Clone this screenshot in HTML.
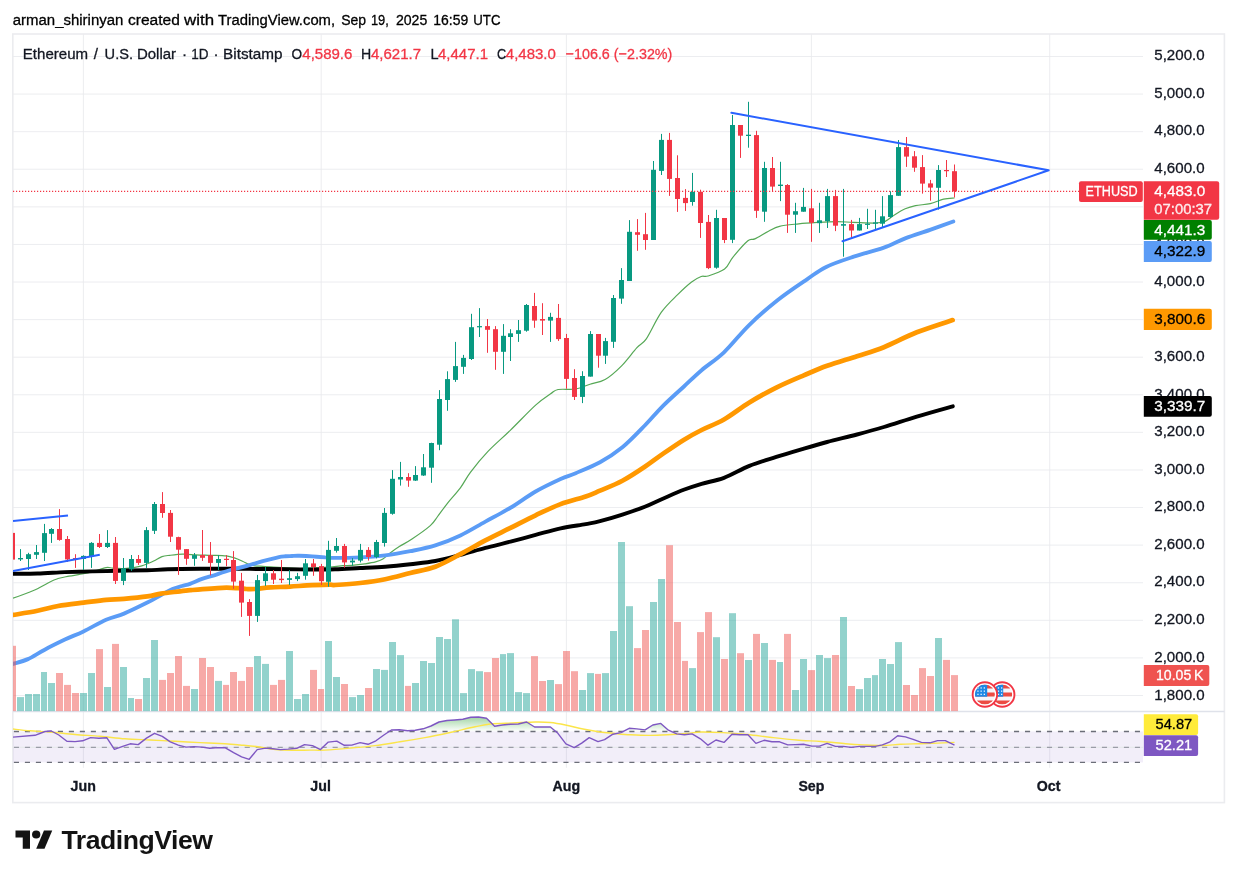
<!DOCTYPE html>
<html><head><meta charset="utf-8"><title>ETHUSD chart</title>
<style>html,body{margin:0;padding:0;background:#fff}body{width:1238px;height:878px;position:relative;overflow:hidden;font-family:"Liberation Sans", sans-serif}</style>
</head><body>
<svg width="1238" height="878" viewBox="0 0 1238 878" style="position:absolute;left:0;top:0;font-family:'Liberation Sans',sans-serif">
<defs>
<clipPath id="pane"><rect x="13.0" y="34.0" width="1130.0" height="677.5"/></clipPath>
<clipPath id="rsic"><rect x="13.0" y="711.5" width="1130.0" height="55.5"/></clipPath>
<clipPath id="above70"><rect x="13.0" y="711.5" width="1130.0" height="19.799999999999955"/></clipPath>
<linearGradient id="gg" gradientUnits="userSpaceOnUse" x1="0" y1="712" x2="0" y2="731.5"><stop offset="0" stop-color="#4caf50" stop-opacity="0.7"/><stop offset="1" stop-color="#4caf50" stop-opacity="0"/></linearGradient>
<clipPath id="flagc"><circle cx="0" cy="0" r="10"/></clipPath>
</defs>
<rect width="1238" height="878" fill="#fff"/>
<line x1="13.0" x2="1143.0" y1="56.50" y2="56.50" stroke="#e8eaed" stroke-width="0.85"/>
<line x1="13.0" x2="1143.0" y1="94.09" y2="94.09" stroke="#e8eaed" stroke-width="0.85"/>
<line x1="13.0" x2="1143.0" y1="131.68" y2="131.68" stroke="#e8eaed" stroke-width="0.85"/>
<line x1="13.0" x2="1143.0" y1="169.26" y2="169.26" stroke="#e8eaed" stroke-width="0.85"/>
<line x1="13.0" x2="1143.0" y1="206.85" y2="206.85" stroke="#e8eaed" stroke-width="0.85"/>
<line x1="13.0" x2="1143.0" y1="244.44" y2="244.44" stroke="#e8eaed" stroke-width="0.85"/>
<line x1="13.0" x2="1143.0" y1="282.03" y2="282.03" stroke="#e8eaed" stroke-width="0.85"/>
<line x1="13.0" x2="1143.0" y1="319.62" y2="319.62" stroke="#e8eaed" stroke-width="0.85"/>
<line x1="13.0" x2="1143.0" y1="357.20" y2="357.20" stroke="#e8eaed" stroke-width="0.85"/>
<line x1="13.0" x2="1143.0" y1="394.79" y2="394.79" stroke="#e8eaed" stroke-width="0.85"/>
<line x1="13.0" x2="1143.0" y1="432.38" y2="432.38" stroke="#e8eaed" stroke-width="0.85"/>
<line x1="13.0" x2="1143.0" y1="469.97" y2="469.97" stroke="#e8eaed" stroke-width="0.85"/>
<line x1="13.0" x2="1143.0" y1="507.56" y2="507.56" stroke="#e8eaed" stroke-width="0.85"/>
<line x1="13.0" x2="1143.0" y1="545.14" y2="545.14" stroke="#e8eaed" stroke-width="0.85"/>
<line x1="13.0" x2="1143.0" y1="582.73" y2="582.73" stroke="#e8eaed" stroke-width="0.85"/>
<line x1="13.0" x2="1143.0" y1="620.32" y2="620.32" stroke="#e8eaed" stroke-width="0.85"/>
<line x1="13.0" x2="1143.0" y1="657.91" y2="657.91" stroke="#e8eaed" stroke-width="0.85"/>
<line x1="13.0" x2="1143.0" y1="695.50" y2="695.50" stroke="#e8eaed" stroke-width="0.85"/>
<line x1="83.4" x2="83.4" y1="34.0" y2="767.8" stroke="#e8eaed" stroke-width="0.85"/>
<line x1="321.2" x2="321.2" y1="34.0" y2="767.8" stroke="#e8eaed" stroke-width="0.85"/>
<line x1="566.4" x2="566.4" y1="34.0" y2="767.8" stroke="#e8eaed" stroke-width="0.85"/>
<line x1="811.4" x2="811.4" y1="34.0" y2="767.8" stroke="#e8eaed" stroke-width="0.85"/>
<line x1="1049.7" x2="1049.7" y1="34.0" y2="767.8" stroke="#e8eaed" stroke-width="0.85"/>
<rect x="12.8" y="34.0" width="1211.6000000000001" height="768.6" fill="none" stroke="#ebecef" stroke-width="1.6"/>
<line x1="13.0" x2="1224.4" y1="711.5" y2="711.5" stroke="#dfe2ea" stroke-width="1.3"/>
<g clip-path="url(#pane)">
<path d="M13.0,598.2 C15.5,597.3 23.8,594.3 27.9,592.7 C32.0,591.1 34.1,590.5 37.5,588.8 C40.9,587.1 45.1,584.4 48.5,582.7 C51.9,581.0 54.7,579.6 58.1,578.5 C61.5,577.4 64.8,577.0 69.0,576.2 C73.2,575.4 79.6,574.5 83.5,573.7 C87.4,573.0 88.6,572.7 92.4,571.7 C96.2,570.7 102.7,568.2 106.1,567.6 C109.5,567.0 110.0,568.1 113.0,568.2 C116.0,568.4 120.6,568.6 124.0,568.5 C127.4,568.4 130.6,568.1 133.6,567.6 C136.6,567.1 139.5,566.4 141.8,565.8 C144.1,565.2 145.2,564.6 147.3,563.8 C149.4,562.9 151.8,561.9 154.2,560.7 C156.6,559.5 159.4,557.5 162.0,556.6 C164.6,555.7 166.5,555.7 170.0,555.3 C173.5,554.9 178.6,554.3 182.9,554.2 C187.2,554.1 191.5,554.7 195.8,554.9 C200.1,555.1 205.7,555.2 208.8,555.3 C211.9,555.4 211.3,555.2 214.2,555.3 C217.1,555.4 222.9,555.5 226.3,555.9 C229.7,556.3 231.7,557.0 234.4,557.9 C237.1,558.8 240.1,560.1 242.5,561.2 C244.9,562.3 247.0,563.6 249.0,564.4 C251.0,565.2 252.3,565.5 254.6,565.8 C256.9,566.1 260.0,566.2 262.7,566.4 C265.4,566.6 264.6,566.4 270.8,566.8 C277.0,567.1 290.1,568.5 300.0,568.5 C309.9,568.5 322.9,567.5 330.0,567.0 C337.1,566.5 339.1,566.0 342.8,565.7 C346.5,565.4 348.4,565.7 352.0,565.4 C355.6,565.1 360.8,564.5 364.7,563.9 C368.6,563.3 372.6,562.7 375.6,561.9 C378.6,561.1 380.5,560.5 382.9,559.0 C385.3,557.5 387.5,555.1 390.2,553.0 C392.9,550.9 395.7,548.9 399.3,546.6 C402.9,544.3 406.8,542.5 412.0,539.0 C417.2,535.5 426.0,529.4 430.3,525.6 C434.6,521.9 434.7,520.3 437.6,516.5 C440.5,512.7 444.0,507.6 447.8,502.8 C451.6,498.0 456.6,492.9 460.4,487.8 C464.2,482.7 465.8,478.4 470.4,472.3 C475.0,466.2 481.3,458.4 488.0,451.4 C494.7,444.4 502.6,437.8 510.5,430.1 C518.4,422.4 528.9,411.2 535.6,405.1 C542.3,399.1 546.9,396.4 550.6,393.8 C554.4,391.2 553.9,390.3 558.1,389.5 C562.3,388.7 570.4,389.9 575.7,389.0 C581.0,388.1 585.1,385.8 590.0,384.2 C594.9,382.6 599.8,382.6 605.1,379.5 C610.4,376.4 616.3,371.1 621.6,365.8 C626.9,360.5 632.6,352.4 636.7,347.9 C640.8,343.4 642.2,344.8 646.3,338.9 C650.4,332.9 656.1,319.6 661.4,312.2 C666.7,304.8 672.9,299.4 677.9,294.4 C682.9,289.4 687.7,285.0 691.6,282.0 C695.5,279.0 698.5,277.5 701.2,276.5 C704.0,275.5 704.2,277.2 708.1,276.0 C712.0,274.8 720.5,272.2 724.6,269.1 C728.7,266.0 728.9,262.0 732.8,257.3 C736.7,252.6 744.2,243.9 747.9,240.8 C751.6,237.7 751.4,240.5 754.8,238.9 C758.2,237.3 764.4,233.3 768.5,231.2 C772.6,229.1 774.5,227.5 779.5,226.3 C784.5,225.1 792.3,224.5 798.7,223.8 C805.1,223.2 811.6,222.8 818.0,222.4 C824.4,222.0 831.2,221.6 837.2,221.6 C843.2,221.6 847.3,222.2 853.7,222.4 C860.1,222.6 870.4,223.2 875.6,223.0 C880.9,222.8 882.0,222.8 885.2,221.4 C888.4,220.0 891.5,216.8 894.8,214.7 C898.1,212.6 901.8,210.3 905.2,208.8 C908.7,207.3 911.3,206.5 915.5,205.6 C919.7,204.7 925.6,204.7 930.3,203.6 C935.0,202.5 939.6,200.1 943.6,199.2 C947.6,198.3 952.7,198.2 954.5,198.0" fill="none" stroke="#56a856" stroke-width="1.2" stroke-linejoin="round"/>
<path d="M13.0,573.7 C17.1,573.7 28.9,573.8 37.5,573.5 C46.1,573.2 55.8,572.5 64.9,572.1 C74.1,571.8 83.2,571.6 92.4,571.4 C101.6,571.2 110.8,570.9 119.9,570.7 C129.1,570.5 139.3,570.5 147.3,570.3 C155.3,570.1 159.1,569.5 167.9,569.3 C176.7,569.0 186.3,568.9 200.0,568.8 C213.7,568.7 233.3,568.8 250.0,568.9 C266.7,569.0 290.0,569.3 300.0,569.4 C310.0,569.5 304.2,569.5 310.0,569.5 C315.8,569.5 326.6,569.5 335.0,569.2 C343.4,569.0 351.7,568.4 360.1,568.0 C368.5,567.6 376.8,567.3 385.2,566.7 C393.6,566.1 401.9,565.2 410.3,564.2 C418.7,563.2 427.0,562.5 435.3,561.0 C443.6,559.5 452.0,557.1 460.4,554.9 C468.8,552.7 477.0,550.1 485.4,547.9 C493.8,545.7 502.1,543.9 510.5,541.7 C518.9,539.5 527.2,537.1 535.6,534.9 C544.0,532.7 552.2,530.2 560.6,528.4 C569.0,526.6 579.1,525.3 585.7,524.1 C592.3,522.9 593.9,522.8 600.0,521.2 C606.1,519.6 614.9,517.0 622.4,514.6 C629.9,512.2 638.1,509.5 644.8,506.8 C651.5,504.1 656.3,501.5 662.8,498.7 C669.3,495.9 677.2,492.3 683.7,489.8 C690.2,487.3 694.9,485.8 701.6,483.8 C708.3,481.8 716.0,480.8 724.0,477.8 C732.0,474.8 740.7,469.4 749.4,465.9 C758.1,462.4 767.3,459.8 776.3,456.9 C785.3,454.0 794.7,451.3 803.2,448.8 C811.7,446.3 818.1,444.4 827.1,442.0 C836.1,439.6 847.5,437.0 857.0,434.5 C866.5,432.0 873.9,430.0 883.9,427.0 C893.9,424.0 905.3,420.1 916.8,416.6 C928.3,413.1 946.8,408.0 952.8,406.3" fill="none" stroke="#000" stroke-width="3.9" stroke-linejoin="round" stroke-linecap="round"/>
<path d="M13.0,663.9 C15.5,663.1 22.7,661.4 27.9,659.1 C33.1,656.8 38.1,653.1 44.3,649.9 C50.5,646.6 58.4,642.7 64.9,639.6 C71.4,636.5 76.6,634.7 83.5,631.4 C90.4,628.1 99.3,622.7 106.1,619.7 C112.8,616.7 117.1,616.5 124.0,613.6 C130.9,610.8 141.1,605.7 147.3,602.6 C153.5,599.5 156.9,597.3 161.1,595.0 C165.3,592.7 169.0,590.5 172.5,589.0 C176.0,587.5 179.1,586.9 182.0,586.0 C184.9,585.1 186.7,585.0 190.0,583.8 C193.3,582.6 198.1,580.3 202.1,578.9 C206.1,577.5 210.8,576.4 214.2,575.3 C217.6,574.2 219.6,573.4 222.3,572.5 C225.0,571.6 227.7,570.8 230.4,570.0 C233.1,569.2 235.8,568.7 238.5,568.0 C241.2,567.3 243.8,566.7 246.5,566.0 C249.2,565.3 251.9,564.4 254.6,563.6 C257.3,562.8 260.0,562.0 262.7,561.2 C265.4,560.5 268.1,559.8 270.8,559.1 C273.5,558.4 276.5,557.6 278.9,557.1 C281.3,556.6 283.1,556.5 285.3,556.3 C287.5,556.1 289.7,556.1 292.0,556.0 C294.3,555.9 295.8,555.7 299.2,555.8 C302.6,555.9 307.9,556.1 312.2,556.4 C316.5,556.7 321.3,557.1 325.1,557.4 C328.9,557.6 329.2,557.9 335.0,557.9 C340.8,557.9 351.7,557.8 360.1,557.4 C368.5,557.0 376.8,556.4 385.2,555.4 C393.6,554.4 401.9,552.9 410.3,551.2 C418.7,549.5 427.0,548.0 435.3,545.4 C443.6,542.8 452.0,539.4 460.4,535.4 C468.8,531.4 477.0,526.2 485.4,521.6 C493.8,517.0 502.1,512.8 510.5,507.8 C518.9,502.8 527.2,496.3 535.6,491.5 C544.0,486.7 553.9,482.1 560.6,479.0 C567.3,475.9 569.1,476.0 575.7,473.2 C582.3,470.4 592.2,466.6 600.0,462.3 C607.8,458.0 614.9,453.4 622.4,447.3 C629.9,441.2 638.1,432.4 644.8,425.5 C651.5,418.6 656.3,412.6 662.8,406.1 C669.3,399.6 677.2,392.7 683.7,386.7 C690.2,380.7 694.9,375.9 701.6,370.2 C708.3,364.5 716.0,359.9 724.0,352.3 C732.0,344.7 740.4,333.5 749.4,324.8 C758.4,316.1 768.2,307.6 777.8,300.0 C787.4,292.4 798.9,284.8 807.0,279.3 C815.1,273.8 818.4,270.7 826.2,266.9 C834.0,263.1 844.1,259.9 853.7,256.7 C863.3,253.5 875.2,250.8 883.9,247.7 C892.6,244.6 898.1,241.1 905.8,238.1 C913.5,235.1 922.1,232.6 930.0,229.8 C937.9,227.0 949.4,222.9 953.3,221.5" fill="none" stroke="#5b9cf6" stroke-width="3.9" stroke-linejoin="round" stroke-linecap="round"/>
<path d="M13.0,615.0 C17.1,614.3 30.0,612.3 37.5,610.8 C45.0,609.3 50.4,607.4 58.1,606.0 C65.8,604.6 75.5,603.6 83.5,602.6 C91.5,601.6 99.3,600.4 106.1,599.8 C112.8,599.2 117.1,599.5 124.0,598.9 C130.9,598.3 141.1,597.3 147.3,596.4 C153.5,595.5 155.7,594.5 161.1,593.6 C166.5,592.8 175.2,591.9 180.0,591.3 C184.8,590.7 182.9,590.8 190.0,590.2 C197.1,589.6 214.2,588.1 222.3,587.8 C230.4,587.5 234.5,588.0 238.5,588.2 C242.5,588.4 243.8,588.9 246.5,589.0 C249.2,589.1 250.5,589.3 254.6,589.0 C258.6,588.7 264.9,587.8 270.8,587.4 C276.7,587.0 283.1,587.0 290.0,586.6 C296.9,586.2 305.5,585.5 312.2,585.2 C318.9,584.9 326.2,584.6 330.0,584.6 C333.8,584.6 330.0,585.3 335.0,585.0 C340.0,584.7 351.7,584.0 360.1,583.0 C368.5,582.0 376.8,580.9 385.2,579.2 C393.6,577.5 401.9,575.1 410.3,573.0 C418.7,570.9 427.0,569.8 435.3,566.7 C443.6,563.6 452.0,558.6 460.4,554.2 C468.8,549.8 477.0,544.8 485.4,540.4 C493.8,536.0 502.1,532.1 510.5,527.9 C518.9,523.7 527.2,519.3 535.6,515.3 C544.0,511.3 552.2,507.2 560.6,504.1 C569.0,501.0 579.1,498.7 585.7,496.5 C592.3,494.3 593.9,493.3 600.0,490.7 C606.1,488.1 614.9,484.8 622.4,480.8 C629.9,476.8 638.1,471.3 644.8,466.8 C651.5,462.3 656.3,458.4 662.8,453.9 C669.3,449.4 677.2,443.9 683.7,439.9 C690.2,435.9 694.9,433.4 701.6,430.0 C708.3,426.6 716.0,424.1 724.0,419.5 C732.0,414.9 740.7,407.8 749.4,402.5 C758.1,397.2 767.3,392.1 776.3,387.6 C785.3,383.1 794.7,379.2 803.2,375.6 C811.7,372.0 818.1,369.0 827.1,365.8 C836.1,362.6 847.5,359.3 857.0,356.2 C866.5,353.1 873.9,351.2 883.9,347.2 C893.9,343.2 905.3,336.8 916.8,332.3 C928.2,327.8 946.6,322.1 952.6,320.1" fill="none" stroke="#ff9800" stroke-width="4.7" stroke-linejoin="round" stroke-linecap="round"/>
<rect x="9" y="645.8" width="7" height="65.4" fill="#ef5350" fill-opacity="0.5"/>
<rect x="17" y="697.1" width="7" height="14.1" fill="#26a69a" fill-opacity="0.5"/>
<rect x="25" y="694.0" width="7" height="17.2" fill="#26a69a" fill-opacity="0.5"/>
<rect x="33" y="694.0" width="7" height="17.2" fill="#26a69a" fill-opacity="0.5"/>
<rect x="41" y="672.0" width="6" height="39.2" fill="#26a69a" fill-opacity="0.5"/>
<rect x="48" y="683.0" width="7" height="28.2" fill="#26a69a" fill-opacity="0.5"/>
<rect x="56" y="673.0" width="7" height="38.2" fill="#ef5350" fill-opacity="0.5"/>
<rect x="64" y="684.9" width="7" height="26.3" fill="#ef5350" fill-opacity="0.5"/>
<rect x="72" y="693.0" width="7" height="18.2" fill="#ef5350" fill-opacity="0.5"/>
<rect x="80" y="693.0" width="7" height="18.2" fill="#26a69a" fill-opacity="0.5"/>
<rect x="88" y="673.0" width="7" height="38.2" fill="#26a69a" fill-opacity="0.5"/>
<rect x="96" y="649.1" width="7" height="62.1" fill="#ef5350" fill-opacity="0.5"/>
<rect x="104" y="687.0" width="7" height="24.2" fill="#26a69a" fill-opacity="0.5"/>
<rect x="112" y="643.9" width="7" height="67.3" fill="#ef5350" fill-opacity="0.5"/>
<rect x="120" y="667.0" width="7" height="44.2" fill="#26a69a" fill-opacity="0.5"/>
<rect x="128" y="698.0" width="6" height="13.2" fill="#26a69a" fill-opacity="0.5"/>
<rect x="135" y="699.0" width="7" height="12.2" fill="#ef5350" fill-opacity="0.5"/>
<rect x="143" y="678.0" width="7" height="33.2" fill="#26a69a" fill-opacity="0.5"/>
<rect x="151" y="640.0" width="7" height="71.2" fill="#26a69a" fill-opacity="0.5"/>
<rect x="159" y="679.9" width="7" height="31.3" fill="#ef5350" fill-opacity="0.5"/>
<rect x="167" y="673.0" width="7" height="38.2" fill="#ef5350" fill-opacity="0.5"/>
<rect x="175" y="656.0" width="7" height="55.2" fill="#ef5350" fill-opacity="0.5"/>
<rect x="183" y="685.9" width="7" height="25.3" fill="#ef5350" fill-opacity="0.5"/>
<rect x="191" y="689.0" width="7" height="22.2" fill="#26a69a" fill-opacity="0.5"/>
<rect x="199" y="658.0" width="7" height="53.2" fill="#ef5350" fill-opacity="0.5"/>
<rect x="207" y="667.0" width="7" height="44.2" fill="#ef5350" fill-opacity="0.5"/>
<rect x="215" y="680.9" width="7" height="30.3" fill="#26a69a" fill-opacity="0.5"/>
<rect x="223" y="684.9" width="6" height="26.3" fill="#ef5350" fill-opacity="0.5"/>
<rect x="230" y="672.0" width="7" height="39.2" fill="#ef5350" fill-opacity="0.5"/>
<rect x="238" y="680.9" width="7" height="30.3" fill="#ef5350" fill-opacity="0.5"/>
<rect x="246" y="667.0" width="7" height="44.2" fill="#ef5350" fill-opacity="0.5"/>
<rect x="254" y="656.0" width="7" height="55.2" fill="#26a69a" fill-opacity="0.5"/>
<rect x="262" y="663.9" width="7" height="47.3" fill="#26a69a" fill-opacity="0.5"/>
<rect x="270" y="684.9" width="7" height="26.3" fill="#ef5350" fill-opacity="0.5"/>
<rect x="278" y="679.9" width="7" height="31.3" fill="#ef5350" fill-opacity="0.5"/>
<rect x="286" y="651.0" width="7" height="60.2" fill="#26a69a" fill-opacity="0.5"/>
<rect x="294" y="699.0" width="7" height="12.2" fill="#26a69a" fill-opacity="0.5"/>
<rect x="302" y="694.0" width="7" height="17.2" fill="#26a69a" fill-opacity="0.5"/>
<rect x="310" y="669.9" width="7" height="41.3" fill="#ef5350" fill-opacity="0.5"/>
<rect x="318" y="689.0" width="6" height="22.2" fill="#ef5350" fill-opacity="0.5"/>
<rect x="325" y="641.0" width="7" height="70.2" fill="#26a69a" fill-opacity="0.5"/>
<rect x="333" y="677.0" width="7" height="34.2" fill="#26a69a" fill-opacity="0.5"/>
<rect x="341" y="684.0" width="7" height="27.2" fill="#ef5350" fill-opacity="0.5"/>
<rect x="349" y="697.1" width="7" height="14.1" fill="#26a69a" fill-opacity="0.5"/>
<rect x="357" y="695.0" width="7" height="16.2" fill="#26a69a" fill-opacity="0.5"/>
<rect x="365" y="688.0" width="7" height="23.2" fill="#ef5350" fill-opacity="0.5"/>
<rect x="373" y="669.0" width="7" height="42.2" fill="#26a69a" fill-opacity="0.5"/>
<rect x="381" y="669.9" width="7" height="41.3" fill="#26a69a" fill-opacity="0.5"/>
<rect x="389" y="642.0" width="7" height="69.2" fill="#26a69a" fill-opacity="0.5"/>
<rect x="397" y="655.1" width="7" height="56.1" fill="#26a69a" fill-opacity="0.5"/>
<rect x="405" y="685.9" width="6" height="25.3" fill="#ef5350" fill-opacity="0.5"/>
<rect x="412" y="683.0" width="7" height="28.2" fill="#26a69a" fill-opacity="0.5"/>
<rect x="420" y="661.0" width="7" height="50.2" fill="#26a69a" fill-opacity="0.5"/>
<rect x="428" y="663.0" width="7" height="48.2" fill="#26a69a" fill-opacity="0.5"/>
<rect x="436" y="637.0" width="7" height="74.2" fill="#26a69a" fill-opacity="0.5"/>
<rect x="444" y="639.0" width="7" height="72.2" fill="#26a69a" fill-opacity="0.5"/>
<rect x="452" y="619.3" width="7" height="91.9" fill="#26a69a" fill-opacity="0.5"/>
<rect x="460" y="693.1" width="7" height="18.1" fill="#26a69a" fill-opacity="0.5"/>
<rect x="468" y="669.1" width="7" height="42.1" fill="#26a69a" fill-opacity="0.5"/>
<rect x="476" y="671.2" width="7" height="40.0" fill="#26a69a" fill-opacity="0.5"/>
<rect x="484" y="672.1" width="7" height="39.1" fill="#ef5350" fill-opacity="0.5"/>
<rect x="492" y="658.0" width="7" height="53.2" fill="#ef5350" fill-opacity="0.5"/>
<rect x="500" y="654.1" width="6" height="57.1" fill="#26a69a" fill-opacity="0.5"/>
<rect x="507" y="653.1" width="7" height="58.1" fill="#26a69a" fill-opacity="0.5"/>
<rect x="515" y="692.1" width="7" height="19.1" fill="#26a69a" fill-opacity="0.5"/>
<rect x="523" y="693.1" width="7" height="18.1" fill="#26a69a" fill-opacity="0.5"/>
<rect x="531" y="656.1" width="7" height="55.1" fill="#ef5350" fill-opacity="0.5"/>
<rect x="539" y="681.0" width="7" height="30.2" fill="#ef5350" fill-opacity="0.5"/>
<rect x="547" y="680.0" width="7" height="31.2" fill="#26a69a" fill-opacity="0.5"/>
<rect x="555" y="684.1" width="7" height="27.1" fill="#ef5350" fill-opacity="0.5"/>
<rect x="563" y="651.0" width="7" height="60.2" fill="#ef5350" fill-opacity="0.5"/>
<rect x="571" y="671.2" width="7" height="40.0" fill="#ef5350" fill-opacity="0.5"/>
<rect x="579" y="690.0" width="7" height="21.2" fill="#26a69a" fill-opacity="0.5"/>
<rect x="587" y="673.1" width="7" height="38.1" fill="#26a69a" fill-opacity="0.5"/>
<rect x="595" y="673.9" width="6" height="37.3" fill="#ef5350" fill-opacity="0.5"/>
<rect x="602" y="673.1" width="7" height="38.1" fill="#26a69a" fill-opacity="0.5"/>
<rect x="610" y="631.0" width="7" height="80.2" fill="#26a69a" fill-opacity="0.5"/>
<rect x="618" y="542.0" width="7" height="169.2" fill="#26a69a" fill-opacity="0.5"/>
<rect x="626" y="606.2" width="7" height="105.0" fill="#26a69a" fill-opacity="0.5"/>
<rect x="634" y="648.1" width="7" height="63.1" fill="#ef5350" fill-opacity="0.5"/>
<rect x="642" y="630.0" width="7" height="81.2" fill="#ef5350" fill-opacity="0.5"/>
<rect x="650" y="602.0" width="7" height="109.2" fill="#26a69a" fill-opacity="0.5"/>
<rect x="658" y="579.0" width="7" height="132.2" fill="#26a69a" fill-opacity="0.5"/>
<rect x="666" y="545.2" width="7" height="166.0" fill="#ef5350" fill-opacity="0.5"/>
<rect x="674" y="622.0" width="7" height="89.2" fill="#ef5350" fill-opacity="0.5"/>
<rect x="682" y="660.9" width="6" height="50.3" fill="#ef5350" fill-opacity="0.5"/>
<rect x="689" y="668.1" width="7" height="43.1" fill="#26a69a" fill-opacity="0.5"/>
<rect x="697" y="632.1" width="7" height="79.1" fill="#ef5350" fill-opacity="0.5"/>
<rect x="705" y="612.1" width="7" height="99.1" fill="#ef5350" fill-opacity="0.5"/>
<rect x="713" y="637.2" width="7" height="74.0" fill="#26a69a" fill-opacity="0.5"/>
<rect x="721" y="659.0" width="7" height="52.2" fill="#ef5350" fill-opacity="0.5"/>
<rect x="729" y="613.2" width="7" height="98.0" fill="#26a69a" fill-opacity="0.5"/>
<rect x="737" y="653.2" width="7" height="58.0" fill="#ef5350" fill-opacity="0.5"/>
<rect x="745" y="660.0" width="7" height="51.2" fill="#26a69a" fill-opacity="0.5"/>
<rect x="753" y="633.9" width="7" height="77.3" fill="#ef5350" fill-opacity="0.5"/>
<rect x="761" y="643.0" width="7" height="68.2" fill="#26a69a" fill-opacity="0.5"/>
<rect x="769" y="659.9" width="7" height="51.3" fill="#ef5350" fill-opacity="0.5"/>
<rect x="777" y="662.0" width="6" height="49.2" fill="#26a69a" fill-opacity="0.5"/>
<rect x="784" y="633.9" width="7" height="77.3" fill="#ef5350" fill-opacity="0.5"/>
<rect x="792" y="690.0" width="7" height="21.2" fill="#26a69a" fill-opacity="0.5"/>
<rect x="800" y="659.0" width="7" height="52.2" fill="#26a69a" fill-opacity="0.5"/>
<rect x="808" y="670.1" width="7" height="41.1" fill="#ef5350" fill-opacity="0.5"/>
<rect x="816" y="655.0" width="7" height="56.2" fill="#26a69a" fill-opacity="0.5"/>
<rect x="824" y="658.1" width="7" height="53.1" fill="#26a69a" fill-opacity="0.5"/>
<rect x="832" y="655.0" width="7" height="56.2" fill="#ef5350" fill-opacity="0.5"/>
<rect x="840" y="617.0" width="7" height="94.2" fill="#26a69a" fill-opacity="0.5"/>
<rect x="848" y="686.0" width="7" height="25.2" fill="#ef5350" fill-opacity="0.5"/>
<rect x="856" y="689.1" width="7" height="22.1" fill="#26a69a" fill-opacity="0.5"/>
<rect x="864" y="678.0" width="7" height="33.2" fill="#26a69a" fill-opacity="0.5"/>
<rect x="872" y="675.1" width="6" height="36.1" fill="#26a69a" fill-opacity="0.5"/>
<rect x="879" y="659.0" width="7" height="52.2" fill="#26a69a" fill-opacity="0.5"/>
<rect x="887" y="664.0" width="7" height="47.2" fill="#26a69a" fill-opacity="0.5"/>
<rect x="895" y="642.1" width="7" height="69.1" fill="#26a69a" fill-opacity="0.5"/>
<rect x="903" y="685.0" width="7" height="26.2" fill="#ef5350" fill-opacity="0.5"/>
<rect x="911" y="695.0" width="7" height="16.2" fill="#ef5350" fill-opacity="0.5"/>
<rect x="919" y="668.1" width="7" height="43.1" fill="#ef5350" fill-opacity="0.5"/>
<rect x="927" y="676.0" width="7" height="35.2" fill="#ef5350" fill-opacity="0.5"/>
<rect x="935" y="638.0" width="7" height="73.2" fill="#26a69a" fill-opacity="0.5"/>
<rect x="943" y="659.9" width="7" height="51.3" fill="#ef5350" fill-opacity="0.5"/>
<rect x="951" y="675.1" width="7" height="36.1" fill="#ef5350" fill-opacity="0.5"/>
<rect x="12.0" y="532.9" width="1" height="26.7" fill="#f23645"/>
<rect x="10.0" y="532.9" width="5" height="26.7" fill="#f23645"/>
<rect x="20.0" y="549.1" width="1" height="11.9" fill="#089981"/>
<rect x="18.0" y="558.0" width="5" height="1.4" fill="#089981"/>
<rect x="28.0" y="552.8" width="1" height="17.2" fill="#089981"/>
<rect x="26.0" y="554.2" width="5" height="4.8" fill="#089981"/>
<rect x="36.0" y="545.0" width="1" height="14.0" fill="#089981"/>
<rect x="34.0" y="552.1" width="5" height="2.7" fill="#089981"/>
<rect x="44.0" y="523.9" width="1" height="37.1" fill="#089981"/>
<rect x="42.0" y="533.1" width="5" height="19.7" fill="#089981"/>
<rect x="51.0" y="528.1" width="1" height="14.8" fill="#089981"/>
<rect x="49.0" y="529.0" width="5" height="4.8" fill="#089981"/>
<rect x="59.0" y="509.1" width="1" height="31.6" fill="#f23645"/>
<rect x="57.0" y="529.0" width="5" height="10.9" fill="#f23645"/>
<rect x="67.0" y="536.0" width="1" height="26.0" fill="#f23645"/>
<rect x="65.0" y="539.0" width="5" height="20.4" fill="#f23645"/>
<rect x="75.0" y="554.2" width="1" height="13.7" fill="#f23645"/>
<rect x="73.0" y="558.0" width="5" height="1.2" fill="#f23645"/>
<rect x="83.0" y="555.3" width="1" height="14.7" fill="#089981"/>
<rect x="81.0" y="555.9" width="5" height="3.1" fill="#089981"/>
<rect x="91.0" y="542.1" width="1" height="25.8" fill="#089981"/>
<rect x="89.0" y="542.9" width="5" height="13.7" fill="#089981"/>
<rect x="99.0" y="534.0" width="1" height="14.0" fill="#f23645"/>
<rect x="97.0" y="542.9" width="5" height="4.1" fill="#f23645"/>
<rect x="107.0" y="530.1" width="1" height="17.9" fill="#089981"/>
<rect x="105.0" y="542.9" width="5" height="4.1" fill="#089981"/>
<rect x="115.0" y="537.0" width="1" height="47.0" fill="#f23645"/>
<rect x="113.0" y="542.9" width="5" height="38.0" fill="#f23645"/>
<rect x="123.0" y="558.0" width="1" height="27.1" fill="#089981"/>
<rect x="121.0" y="568.3" width="5" height="12.6" fill="#089981"/>
<rect x="131.0" y="555.0" width="1" height="15.9" fill="#089981"/>
<rect x="129.0" y="559.0" width="5" height="10.3" fill="#089981"/>
<rect x="138.0" y="555.0" width="1" height="9.9" fill="#f23645"/>
<rect x="136.0" y="559.0" width="5" height="3.9" fill="#f23645"/>
<rect x="146.0" y="527.1" width="1" height="40.8" fill="#089981"/>
<rect x="144.0" y="530.1" width="5" height="32.8" fill="#089981"/>
<rect x="154.0" y="502.0" width="1" height="32.0" fill="#089981"/>
<rect x="152.0" y="504.0" width="5" height="26.8" fill="#089981"/>
<rect x="162.0" y="492.1" width="1" height="25.7" fill="#f23645"/>
<rect x="160.0" y="504.0" width="5" height="9.0" fill="#f23645"/>
<rect x="170.0" y="510.0" width="1" height="32.0" fill="#f23645"/>
<rect x="168.0" y="512.9" width="5" height="23.8" fill="#f23645"/>
<rect x="178.0" y="536.7" width="1" height="38.2" fill="#f23645"/>
<rect x="176.0" y="537.1" width="5" height="12.6" fill="#f23645"/>
<rect x="186.0" y="549.1" width="1" height="15.7" fill="#f23645"/>
<rect x="184.0" y="549.1" width="5" height="9.7" fill="#f23645"/>
<rect x="194.0" y="553.0" width="1" height="12.8" fill="#089981"/>
<rect x="192.0" y="555.1" width="5" height="3.7" fill="#089981"/>
<rect x="202.0" y="530.0" width="1" height="30.9" fill="#f23645"/>
<rect x="200.0" y="555.1" width="5" height="2.7" fill="#f23645"/>
<rect x="210.0" y="542.0" width="1" height="33.4" fill="#f23645"/>
<rect x="208.0" y="555.1" width="5" height="7.8" fill="#f23645"/>
<rect x="218.0" y="555.1" width="1" height="14.9" fill="#089981"/>
<rect x="216.0" y="559.0" width="5" height="3.9" fill="#089981"/>
<rect x="226.0" y="555.1" width="1" height="11.1" fill="#f23645"/>
<rect x="224.0" y="558.8" width="5" height="1.2" fill="#f23645"/>
<rect x="233.0" y="551.1" width="1" height="37.7" fill="#f23645"/>
<rect x="231.0" y="560.0" width="5" height="21.6" fill="#f23645"/>
<rect x="241.0" y="572.9" width="1" height="44.0" fill="#f23645"/>
<rect x="239.0" y="580.7" width="5" height="21.9" fill="#f23645"/>
<rect x="249.0" y="599.1" width="1" height="36.8" fill="#f23645"/>
<rect x="247.0" y="602.0" width="5" height="13.9" fill="#f23645"/>
<rect x="257.0" y="574.9" width="1" height="47.0" fill="#089981"/>
<rect x="255.0" y="580.1" width="5" height="35.8" fill="#089981"/>
<rect x="265.0" y="567.1" width="1" height="18.8" fill="#089981"/>
<rect x="263.0" y="573.3" width="5" height="7.8" fill="#089981"/>
<rect x="273.0" y="570.0" width="1" height="14.0" fill="#f23645"/>
<rect x="271.0" y="573.3" width="5" height="6.4" fill="#f23645"/>
<rect x="281.0" y="560.0" width="1" height="23.0" fill="#f23645"/>
<rect x="279.0" y="578.7" width="5" height="1.4" fill="#f23645"/>
<rect x="289.0" y="570.0" width="1" height="14.9" fill="#089981"/>
<rect x="287.0" y="578.2" width="5" height="1.7" fill="#089981"/>
<rect x="297.0" y="572.9" width="1" height="8.2" fill="#089981"/>
<rect x="295.0" y="576.2" width="5" height="2.9" fill="#089981"/>
<rect x="305.0" y="559.0" width="1" height="20.7" fill="#089981"/>
<rect x="303.0" y="563.3" width="5" height="12.5" fill="#089981"/>
<rect x="313.0" y="559.0" width="1" height="16.8" fill="#f23645"/>
<rect x="311.0" y="563.4" width="5" height="3.6" fill="#f23645"/>
<rect x="321.0" y="563.9" width="1" height="21.0" fill="#f23645"/>
<rect x="319.0" y="566.1" width="5" height="15.1" fill="#f23645"/>
<rect x="328.0" y="540.8" width="1" height="45.9" fill="#089981"/>
<rect x="326.0" y="549.9" width="5" height="31.9" fill="#089981"/>
<rect x="336.0" y="538.0" width="1" height="14.6" fill="#089981"/>
<rect x="334.0" y="546.0" width="5" height="4.8" fill="#089981"/>
<rect x="344.0" y="543.9" width="1" height="23.7" fill="#f23645"/>
<rect x="342.0" y="546.0" width="5" height="16.4" fill="#f23645"/>
<rect x="352.0" y="558.1" width="1" height="7.6" fill="#089981"/>
<rect x="350.0" y="560.6" width="5" height="1.8" fill="#089981"/>
<rect x="360.0" y="543.9" width="1" height="18.5" fill="#089981"/>
<rect x="358.0" y="549.9" width="5" height="10.7" fill="#089981"/>
<rect x="368.0" y="547.1" width="1" height="13.5" fill="#f23645"/>
<rect x="366.0" y="549.9" width="5" height="7.1" fill="#f23645"/>
<rect x="376.0" y="539.9" width="1" height="18.5" fill="#089981"/>
<rect x="374.0" y="542.0" width="5" height="15.0" fill="#089981"/>
<rect x="384.0" y="508.0" width="1" height="38.6" fill="#089981"/>
<rect x="382.0" y="512.9" width="5" height="30.1" fill="#089981"/>
<rect x="392.0" y="470.1" width="1" height="44.6" fill="#089981"/>
<rect x="390.0" y="478.8" width="5" height="35.0" fill="#089981"/>
<rect x="400.0" y="461.9" width="1" height="23.7" fill="#089981"/>
<rect x="398.0" y="477.0" width="5" height="2.5" fill="#089981"/>
<rect x="408.0" y="473.2" width="1" height="13.6" fill="#f23645"/>
<rect x="406.0" y="477.0" width="5" height="3.6" fill="#f23645"/>
<rect x="415.0" y="466.1" width="1" height="14.9" fill="#089981"/>
<rect x="413.0" y="475.0" width="5" height="5.6" fill="#089981"/>
<rect x="423.0" y="454.0" width="1" height="21.9" fill="#089981"/>
<rect x="421.0" y="467.3" width="5" height="8.2" fill="#089981"/>
<rect x="431.0" y="442.7" width="1" height="40.1" fill="#089981"/>
<rect x="429.0" y="443.0" width="5" height="24.7" fill="#089981"/>
<rect x="439.0" y="390.1" width="1" height="60.1" fill="#089981"/>
<rect x="437.0" y="399.0" width="5" height="45.7" fill="#089981"/>
<rect x="447.0" y="371.3" width="1" height="39.5" fill="#089981"/>
<rect x="445.0" y="379.1" width="5" height="20.9" fill="#089981"/>
<rect x="455.0" y="341.9" width="1" height="40.0" fill="#089981"/>
<rect x="453.0" y="366.1" width="5" height="13.8" fill="#089981"/>
<rect x="463.0" y="354.9" width="1" height="19.0" fill="#089981"/>
<rect x="461.0" y="357.9" width="5" height="8.9" fill="#089981"/>
<rect x="471.0" y="313.8" width="1" height="46.2" fill="#089981"/>
<rect x="469.0" y="327.2" width="5" height="31.8" fill="#089981"/>
<rect x="479.0" y="308.1" width="1" height="28.9" fill="#089981"/>
<rect x="477.0" y="326.1" width="5" height="1.2" fill="#089981"/>
<rect x="487.0" y="319.0" width="1" height="33.8" fill="#f23645"/>
<rect x="485.0" y="326.1" width="5" height="3.7" fill="#f23645"/>
<rect x="495.0" y="326.1" width="1" height="43.7" fill="#f23645"/>
<rect x="493.0" y="329.2" width="5" height="22.6" fill="#f23645"/>
<rect x="503.0" y="324.1" width="1" height="49.8" fill="#089981"/>
<rect x="501.0" y="335.8" width="5" height="16.0" fill="#089981"/>
<rect x="510.0" y="329.2" width="1" height="31.8" fill="#089981"/>
<rect x="508.0" y="333.3" width="5" height="3.7" fill="#089981"/>
<rect x="518.0" y="320.0" width="1" height="21.9" fill="#089981"/>
<rect x="516.0" y="330.2" width="5" height="3.7" fill="#089981"/>
<rect x="526.0" y="304.0" width="1" height="27.7" fill="#089981"/>
<rect x="524.0" y="305.0" width="5" height="25.7" fill="#089981"/>
<rect x="534.0" y="292.9" width="1" height="34.9" fill="#f23645"/>
<rect x="532.0" y="306.0" width="5" height="14.6" fill="#f23645"/>
<rect x="542.0" y="303.2" width="1" height="31.8" fill="#f23645"/>
<rect x="540.0" y="319.0" width="5" height="1.6" fill="#f23645"/>
<rect x="550.0" y="312.8" width="1" height="29.1" fill="#089981"/>
<rect x="548.0" y="316.9" width="5" height="3.7" fill="#089981"/>
<rect x="558.0" y="304.0" width="1" height="36.9" fill="#f23645"/>
<rect x="556.0" y="317.9" width="5" height="21.2" fill="#f23645"/>
<rect x="566.0" y="333.9" width="1" height="54.8" fill="#f23645"/>
<rect x="564.0" y="338.0" width="5" height="40.9" fill="#f23645"/>
<rect x="574.0" y="369.2" width="1" height="30.8" fill="#f23645"/>
<rect x="572.0" y="378.0" width="5" height="18.9" fill="#f23645"/>
<rect x="582.0" y="371.2" width="1" height="31.9" fill="#089981"/>
<rect x="580.0" y="376.0" width="5" height="20.9" fill="#089981"/>
<rect x="590.0" y="331.1" width="1" height="45.5" fill="#089981"/>
<rect x="588.0" y="334.0" width="5" height="42.6" fill="#089981"/>
<rect x="598.0" y="334.0" width="1" height="33.7" fill="#f23645"/>
<rect x="596.0" y="334.0" width="5" height="21.7" fill="#f23645"/>
<rect x="605.0" y="337.9" width="1" height="26.0" fill="#089981"/>
<rect x="603.0" y="341.1" width="5" height="14.6" fill="#089981"/>
<rect x="613.0" y="295.0" width="1" height="52.9" fill="#089981"/>
<rect x="611.0" y="298.0" width="5" height="43.8" fill="#089981"/>
<rect x="621.0" y="268.1" width="1" height="35.7" fill="#089981"/>
<rect x="619.0" y="280.0" width="5" height="18.6" fill="#089981"/>
<rect x="629.0" y="220.1" width="1" height="60.9" fill="#089981"/>
<rect x="627.0" y="231.8" width="5" height="49.2" fill="#089981"/>
<rect x="637.0" y="219.1" width="1" height="31.7" fill="#f23645"/>
<rect x="635.0" y="232.2" width="5" height="2.6" fill="#f23645"/>
<rect x="645.0" y="212.9" width="1" height="36.9" fill="#f23645"/>
<rect x="643.0" y="234.2" width="5" height="5.8" fill="#f23645"/>
<rect x="653.0" y="161.0" width="1" height="79.0" fill="#089981"/>
<rect x="651.0" y="169.8" width="5" height="70.2" fill="#089981"/>
<rect x="661.0" y="133.9" width="1" height="41.1" fill="#089981"/>
<rect x="659.0" y="139.9" width="5" height="31.0" fill="#089981"/>
<rect x="669.0" y="132.9" width="1" height="63.0" fill="#f23645"/>
<rect x="667.0" y="139.9" width="5" height="39.0" fill="#f23645"/>
<rect x="677.0" y="155.3" width="1" height="56.6" fill="#f23645"/>
<rect x="675.0" y="178.0" width="5" height="21.0" fill="#f23645"/>
<rect x="685.0" y="189.1" width="1" height="21.8" fill="#f23645"/>
<rect x="683.0" y="197.9" width="5" height="5.2" fill="#f23645"/>
<rect x="692.0" y="172.9" width="1" height="32.8" fill="#089981"/>
<rect x="690.0" y="191.8" width="5" height="10.2" fill="#089981"/>
<rect x="700.0" y="189.7" width="1" height="48.2" fill="#f23645"/>
<rect x="698.0" y="191.8" width="5" height="31.2" fill="#f23645"/>
<rect x="708.0" y="215.0" width="1" height="54.1" fill="#f23645"/>
<rect x="706.0" y="221.9" width="5" height="46.2" fill="#f23645"/>
<rect x="716.0" y="209.8" width="1" height="58.9" fill="#089981"/>
<rect x="714.0" y="218.0" width="5" height="49.7" fill="#089981"/>
<rect x="724.0" y="218.0" width="1" height="25.1" fill="#f23645"/>
<rect x="722.0" y="218.0" width="5" height="22.0" fill="#f23645"/>
<rect x="732.0" y="114.9" width="1" height="128.2" fill="#089981"/>
<rect x="730.0" y="125.0" width="5" height="114.8" fill="#089981"/>
<rect x="740.0" y="125.0" width="1" height="32.9" fill="#f23645"/>
<rect x="738.0" y="125.0" width="5" height="10.7" fill="#f23645"/>
<rect x="748.0" y="101.8" width="1" height="45.9" fill="#089981"/>
<rect x="746.0" y="134.7" width="5" height="1.3" fill="#089981"/>
<rect x="756.0" y="130.8" width="1" height="87.1" fill="#f23645"/>
<rect x="754.0" y="135.1" width="5" height="75.7" fill="#f23645"/>
<rect x="764.0" y="161.8" width="1" height="60.0" fill="#089981"/>
<rect x="762.0" y="168.0" width="5" height="43.7" fill="#089981"/>
<rect x="772.0" y="157.0" width="1" height="34.4" fill="#f23645"/>
<rect x="770.0" y="168.0" width="5" height="18.6" fill="#f23645"/>
<rect x="780.0" y="161.8" width="1" height="39.3" fill="#089981"/>
<rect x="778.0" y="184.6" width="5" height="1.4" fill="#089981"/>
<rect x="787.0" y="184.1" width="1" height="48.8" fill="#f23645"/>
<rect x="785.0" y="185.0" width="5" height="29.7" fill="#f23645"/>
<rect x="795.0" y="202.8" width="1" height="30.1" fill="#089981"/>
<rect x="793.0" y="211.2" width="5" height="3.5" fill="#089981"/>
<rect x="803.0" y="187.9" width="1" height="23.8" fill="#089981"/>
<rect x="801.0" y="206.9" width="5" height="4.8" fill="#089981"/>
<rect x="811.0" y="188.9" width="1" height="52.9" fill="#f23645"/>
<rect x="809.0" y="208.3" width="5" height="14.5" fill="#f23645"/>
<rect x="819.0" y="202.8" width="1" height="30.1" fill="#089981"/>
<rect x="817.0" y="220.3" width="5" height="2.9" fill="#089981"/>
<rect x="827.0" y="188.9" width="1" height="39.1" fill="#089981"/>
<rect x="825.0" y="196.1" width="5" height="25.1" fill="#089981"/>
<rect x="835.0" y="189.9" width="1" height="41.2" fill="#f23645"/>
<rect x="833.0" y="196.1" width="5" height="29.6" fill="#f23645"/>
<rect x="843.0" y="188.9" width="1" height="67.8" fill="#089981"/>
<rect x="841.0" y="224.1" width="5" height="1.6" fill="#089981"/>
<rect x="851.0" y="219.9" width="1" height="17.4" fill="#f23645"/>
<rect x="849.0" y="224.1" width="5" height="6.4" fill="#f23645"/>
<rect x="859.0" y="217.9" width="1" height="12.6" fill="#089981"/>
<rect x="857.0" y="224.1" width="5" height="6.4" fill="#089981"/>
<rect x="867.0" y="208.8" width="1" height="20.2" fill="#089981"/>
<rect x="865.0" y="223.7" width="5" height="1.2" fill="#089981"/>
<rect x="875.0" y="209.8" width="1" height="19.2" fill="#089981"/>
<rect x="873.0" y="222.4" width="5" height="1.3" fill="#089981"/>
<rect x="882.0" y="196.1" width="1" height="31.4" fill="#089981"/>
<rect x="880.0" y="216.3" width="5" height="7.4" fill="#089981"/>
<rect x="890.0" y="191.2" width="1" height="26.8" fill="#089981"/>
<rect x="888.0" y="195.1" width="5" height="21.9" fill="#089981"/>
<rect x="898.0" y="140.0" width="1" height="55.8" fill="#089981"/>
<rect x="896.0" y="147.1" width="5" height="48.7" fill="#089981"/>
<rect x="906.0" y="137.0" width="1" height="29.9" fill="#f23645"/>
<rect x="904.0" y="147.1" width="5" height="9.5" fill="#f23645"/>
<rect x="914.0" y="151.1" width="1" height="20.7" fill="#f23645"/>
<rect x="912.0" y="156.3" width="5" height="11.4" fill="#f23645"/>
<rect x="922.0" y="155.1" width="1" height="38.5" fill="#f23645"/>
<rect x="920.0" y="167.1" width="5" height="16.5" fill="#f23645"/>
<rect x="930.0" y="179.9" width="1" height="20.8" fill="#f23645"/>
<rect x="928.0" y="183.4" width="5" height="4.2" fill="#f23645"/>
<rect x="938.0" y="165.1" width="1" height="44.5" fill="#089981"/>
<rect x="936.0" y="170.0" width="5" height="17.8" fill="#089981"/>
<rect x="946.0" y="160.0" width="1" height="17.0" fill="#f23645"/>
<rect x="944.0" y="170.0" width="5" height="1.2" fill="#f23645"/>
<rect x="954.0" y="164.5" width="1" height="33.0" fill="#f23645"/>
<rect x="952.0" y="171.2" width="5" height="20.1" fill="#f23645"/>
<line x1="13.0" x2="1079" y1="191.4" y2="191.4" stroke="#f23645" stroke-width="1.2" stroke-dasharray="1.2 1.8"/>
<line x1="13" y1="520.9" x2="68" y2="515.4" stroke="#2962ff" stroke-width="2"/>
<line x1="13" y1="570.9" x2="99.8" y2="554.8" stroke="#2962ff" stroke-width="2"/>
<path d="M731.4,112.8 L1048.7,170.3 L842.5,241.2" fill="none" stroke="#2962ff" stroke-width="2" stroke-linejoin="round" stroke-linecap="round"/>
</g>
<g transform="translate(1002.2,694.5)"><circle r="12.25" fill="#fff" stroke="#f23645" stroke-width="1.9"/><g clip-path="url(#flagc)"><rect x="-10" y="-10" width="20" height="20" fill="#f5f6fb"/><rect x="-10" y="-10" width="20" height="4" fill="#ec4b43"/><rect x="-10" y="-2" width="20" height="4" fill="#ec4b43"/><rect x="-10" y="6" width="20" height="4" fill="#ec4b43"/><rect x="-10" y="-10" width="11" height="12.2" fill="#1e88e5"/><rect x="-7.6" y="-7.2" width="1.3" height="1.3" fill="#fff" fill-opacity="0.9"/><rect x="-4.3999999999999995" y="-7.2" width="1.3" height="1.3" fill="#fff" fill-opacity="0.9"/><rect x="-1.1999999999999993" y="-7.2" width="1.3" height="1.3" fill="#fff" fill-opacity="0.9"/><rect x="-7.6" y="-4.0" width="1.3" height="1.3" fill="#fff" fill-opacity="0.9"/><rect x="-4.3999999999999995" y="-4.0" width="1.3" height="1.3" fill="#fff" fill-opacity="0.9"/><rect x="-1.1999999999999993" y="-4.0" width="1.3" height="1.3" fill="#fff" fill-opacity="0.9"/><rect x="-7.6" y="-0.7999999999999998" width="1.3" height="1.3" fill="#fff" fill-opacity="0.9"/><rect x="-4.3999999999999995" y="-0.7999999999999998" width="1.3" height="1.3" fill="#fff" fill-opacity="0.9"/><rect x="-1.1999999999999993" y="-0.7999999999999998" width="1.3" height="1.3" fill="#fff" fill-opacity="0.9"/></g></g>
<g transform="translate(984.9,694.5)"><circle r="12.25" fill="#fff" stroke="#f23645" stroke-width="1.9"/><g clip-path="url(#flagc)"><rect x="-10" y="-10" width="20" height="20" fill="#f5f6fb"/><rect x="-10" y="-10" width="20" height="4" fill="#ec4b43"/><rect x="-10" y="-2" width="20" height="4" fill="#ec4b43"/><rect x="-10" y="6" width="20" height="4" fill="#ec4b43"/><rect x="-10" y="-10" width="12.3" height="12.2" fill="#1e88e5"/><rect x="-7.6" y="-7.2" width="1.3" height="1.3" fill="#fff" fill-opacity="0.9"/><rect x="-4.3999999999999995" y="-7.2" width="1.3" height="1.3" fill="#fff" fill-opacity="0.9"/><rect x="-1.1999999999999993" y="-7.2" width="1.3" height="1.3" fill="#fff" fill-opacity="0.9"/><rect x="-7.6" y="-4.0" width="1.3" height="1.3" fill="#fff" fill-opacity="0.9"/><rect x="-4.3999999999999995" y="-4.0" width="1.3" height="1.3" fill="#fff" fill-opacity="0.9"/><rect x="-1.1999999999999993" y="-4.0" width="1.3" height="1.3" fill="#fff" fill-opacity="0.9"/><rect x="-7.6" y="-0.7999999999999998" width="1.3" height="1.3" fill="#fff" fill-opacity="0.9"/><rect x="-4.3999999999999995" y="-0.7999999999999998" width="1.3" height="1.3" fill="#fff" fill-opacity="0.9"/><rect x="-1.1999999999999993" y="-0.7999999999999998" width="1.3" height="1.3" fill="#fff" fill-opacity="0.9"/></g></g>
<rect x="13.0" y="731.5" width="1130.0" height="30.899999999999977" fill="#7e57c2" fill-opacity="0.1"/>
<path d="M13.0,737.1 L35.0,735.3 L45.0,731.5 L51.3,731.0 L58.8,735.0 L66.9,741.3 L75.0,741.6 L82.6,740.8 L90.6,737.6 L98.9,738.3 L106.9,737.8 L114.4,749.3 L122.7,746.3 L130.2,743.8 L138.2,744.6 L146.5,738.1 L154.5,733.3 L162.3,736.3 L170.3,741.8 L178.3,745.1 L186.0,747.1 L194.0,746.6 L202.0,747.1 L209.8,748.3 L217.9,747.6 L225.4,747.8 L233.6,752.6 L241.6,756.8 L249.2,759.3 L257.2,749.6 L265.4,748.1 L272.9,748.8 L280.5,749.6 L288.0,749.1 L296.7,748.3 L304.5,744.6 L312.5,745.6 L320.5,749.6 L328.3,742.1 L336.8,741.1 L344.3,745.3 L351.8,745.1 L360.1,742.6 L368.1,744.3 L375.9,740.8 L383.9,735.0 L391.4,730.0 L399.4,729.8 L407.7,730.8 L415.2,730.3 L423.2,728.8 L431.0,726.0 L439.0,722.0 L447.0,720.5 L454.7,720.0 L462.8,719.3 L470.8,717.3 L478.5,717.0 L486.5,718.3 L494.6,726.3 L502.3,725.0 L510.3,724.3 L518.3,724.0 L526.6,722.0 L534.6,727.0 L542.4,727.0 L550.4,727.0 L557.9,733.3 L565.9,743.8 L574.2,747.6 L581.7,743.1 L589.2,737.6 L598.0,741.6 L604.6,739.7 L612.9,734.2 L620.9,732.6 L629.2,728.3 L636.8,728.9 L645.1,729.9 L652.8,725.0 L660.8,723.4 L668.4,730.2 L676.7,733.9 L684.4,734.8 L692.1,733.9 L700.4,738.8 L708.0,745.2 L716.0,740.0 L724.0,742.4 L732.0,734.2 L739.7,734.8 L748.0,734.8 L755.9,743.4 L764.2,740.3 L771.9,741.8 L779.6,741.8 L787.8,744.9 L795.5,744.6 L803.5,744.3 L811.8,746.1 L819.5,746.1 L827.1,743.4 L835.4,746.4 L843.4,746.4 L851.1,747.4 L859.4,746.4 L867.0,746.4 L875.3,746.4 L882.4,744.9 L890.0,741.8 L897.7,735.7 L905.4,736.9 L913.1,739.4 L921.4,742.4 L930.0,742.8 L937.6,740.6 L945.3,740.6 L954.5,745.2 L954.5,731.3 L13,731.3 Z" fill="url(#gg)" clip-path="url(#above70)"/>
<line x1="13.0" x2="1143.0" y1="747.4" y2="747.4" stroke="#e8eaed" stroke-width="1.1"/>
<line x1="13.0" x2="1140.5" y1="731.5" y2="731.5" stroke="#6b6e78" stroke-width="1.3" stroke-dasharray="5.1 5.89" stroke-dashoffset="-0.9"/>
<line x1="13.0" x2="1140.5" y1="747.4" y2="747.4" stroke="#9a9da7" stroke-width="1.3" stroke-dasharray="5.1 5.89" stroke-dashoffset="-0.9"/>
<line x1="13.0" x2="1140.5" y1="762.4" y2="762.4" stroke="#6b6e78" stroke-width="1.3" stroke-dasharray="5.1 5.89" stroke-dashoffset="-0.9"/>
<path d="M13.0,729.0 C15.8,729.3 23.8,730.3 30.0,730.8 C36.2,731.3 42.5,731.4 50.0,732.0 C57.5,732.6 66.7,733.8 75.0,734.5 C83.3,735.2 91.7,735.6 100.0,736.3 C108.3,737.0 116.7,738.2 125.0,738.8 C133.3,739.4 141.7,739.6 150.0,740.0 C158.3,740.4 166.7,740.9 175.0,741.3 C183.3,741.7 191.7,742.2 200.0,742.6 C208.3,743.0 218.3,743.4 225.0,743.8 C231.7,744.2 234.5,744.5 240.0,745.0 C245.5,745.5 252.1,746.0 258.0,746.8 C263.9,747.6 269.2,749.0 275.5,749.6 C281.8,750.2 289.8,750.2 295.5,750.3 C301.2,750.4 305.1,750.1 310.0,750.1 C314.9,750.1 318.3,750.4 325.0,750.1 C331.7,749.8 341.7,748.9 350.0,748.1 C358.3,747.4 366.7,746.7 375.0,745.6 C383.3,744.5 391.7,743.1 400.0,741.8 C408.3,740.5 416.7,739.1 425.0,737.6 C433.3,736.1 441.7,734.3 450.0,732.5 C458.3,730.7 468.3,728.2 475.0,726.8 C481.7,725.4 484.0,724.6 490.3,724.0 C496.6,723.4 505.3,723.3 512.8,723.0 C520.3,722.7 529.1,722.1 535.4,722.0 C541.7,721.9 545.4,722.0 550.4,722.5 C555.4,723.0 560.0,723.9 565.4,725.0 C570.8,726.1 577.2,727.8 583.0,729.0 C588.8,730.2 594.6,731.2 600.0,732.0 C605.4,732.8 610.2,733.0 615.3,733.5 C620.4,734.0 625.1,734.5 630.7,734.8 C636.3,735.1 643.0,735.4 649.1,735.4 C655.2,735.4 661.4,735.1 667.5,734.8 C673.6,734.5 680.4,734.0 686.0,733.5 C691.6,733.0 695.2,732.1 701.3,732.0 C707.4,731.9 715.1,732.2 722.8,732.6 C730.5,733.0 739.1,733.7 747.3,734.5 C755.5,735.3 763.7,736.6 771.9,737.5 C780.1,738.4 788.2,739.3 796.4,740.0 C804.6,740.7 812.8,740.9 821.0,741.5 C829.2,742.1 838.3,743.1 845.5,743.7 C852.7,744.3 857.9,744.6 864.0,744.9 C870.1,745.2 876.3,745.6 882.4,745.5 C888.5,745.4 894.7,744.6 900.8,744.3 C906.9,744.0 913.1,743.9 919.2,743.7 C925.3,743.5 931.7,743.3 937.6,743.1 C943.5,742.9 951.7,742.5 954.5,742.4" fill="none" stroke="#fbe54a" stroke-width="1.4"/>
<path d="M13.0,737.1 L35.0,735.3 L45.0,731.5 L51.3,731.0 L58.8,735.0 L66.9,741.3 L75.0,741.6 L82.6,740.8 L90.6,737.6 L98.9,738.3 L106.9,737.8 L114.4,749.3 L122.7,746.3 L130.2,743.8 L138.2,744.6 L146.5,738.1 L154.5,733.3 L162.3,736.3 L170.3,741.8 L178.3,745.1 L186.0,747.1 L194.0,746.6 L202.0,747.1 L209.8,748.3 L217.9,747.6 L225.4,747.8 L233.6,752.6 L241.6,756.8 L249.2,759.3 L257.2,749.6 L265.4,748.1 L272.9,748.8 L280.5,749.6 L288.0,749.1 L296.7,748.3 L304.5,744.6 L312.5,745.6 L320.5,749.6 L328.3,742.1 L336.8,741.1 L344.3,745.3 L351.8,745.1 L360.1,742.6 L368.1,744.3 L375.9,740.8 L383.9,735.0 L391.4,730.0 L399.4,729.8 L407.7,730.8 L415.2,730.3 L423.2,728.8 L431.0,726.0 L439.0,722.0 L447.0,720.5 L454.7,720.0 L462.8,719.3 L470.8,717.3 L478.5,717.0 L486.5,718.3 L494.6,726.3 L502.3,725.0 L510.3,724.3 L518.3,724.0 L526.6,722.0 L534.6,727.0 L542.4,727.0 L550.4,727.0 L557.9,733.3 L565.9,743.8 L574.2,747.6 L581.7,743.1 L589.2,737.6 L598.0,741.6 L604.6,739.7 L612.9,734.2 L620.9,732.6 L629.2,728.3 L636.8,728.9 L645.1,729.9 L652.8,725.0 L660.8,723.4 L668.4,730.2 L676.7,733.9 L684.4,734.8 L692.1,733.9 L700.4,738.8 L708.0,745.2 L716.0,740.0 L724.0,742.4 L732.0,734.2 L739.7,734.8 L748.0,734.8 L755.9,743.4 L764.2,740.3 L771.9,741.8 L779.6,741.8 L787.8,744.9 L795.5,744.6 L803.5,744.3 L811.8,746.1 L819.5,746.1 L827.1,743.4 L835.4,746.4 L843.4,746.4 L851.1,747.4 L859.4,746.4 L867.0,746.4 L875.3,746.4 L882.4,744.9 L890.0,741.8 L897.7,735.7 L905.4,736.9 L913.1,739.4 L921.4,742.4 L930.0,742.8 L937.6,740.6 L945.3,740.6 L954.5,745.2" fill="none" stroke="#7e57c2" stroke-width="1.4" stroke-linejoin="round"/>
<text x="1154.3" y="60.2" font-size="15.2" fill="#131722" stroke="#131722" stroke-width="0.3" font-weight="normal" text-anchor="start" textLength="50.3" lengthAdjust="spacingAndGlyphs">5,200.0</text>
<text x="1154.3" y="97.8" font-size="15.2" fill="#131722" stroke="#131722" stroke-width="0.3" font-weight="normal" text-anchor="start" textLength="50.3" lengthAdjust="spacingAndGlyphs">5,000.0</text>
<text x="1154.3" y="135.4" font-size="15.2" fill="#131722" stroke="#131722" stroke-width="0.3" font-weight="normal" text-anchor="start" textLength="50.3" lengthAdjust="spacingAndGlyphs">4,800.0</text>
<text x="1154.3" y="173.0" font-size="15.2" fill="#131722" stroke="#131722" stroke-width="0.3" font-weight="normal" text-anchor="start" textLength="50.3" lengthAdjust="spacingAndGlyphs">4,600.0</text>
<text x="1154.3" y="210.6" font-size="15.2" fill="#131722" stroke="#131722" stroke-width="0.3" font-weight="normal" text-anchor="start" textLength="50.3" lengthAdjust="spacingAndGlyphs">4,400.0</text>
<text x="1154.3" y="248.1" font-size="15.2" fill="#131722" stroke="#131722" stroke-width="0.3" font-weight="normal" text-anchor="start" textLength="50.3" lengthAdjust="spacingAndGlyphs">4,200.0</text>
<text x="1154.3" y="285.7" font-size="15.2" fill="#131722" stroke="#131722" stroke-width="0.3" font-weight="normal" text-anchor="start" textLength="50.3" lengthAdjust="spacingAndGlyphs">4,000.0</text>
<text x="1154.3" y="323.3" font-size="15.2" fill="#131722" stroke="#131722" stroke-width="0.3" font-weight="normal" text-anchor="start" textLength="50.3" lengthAdjust="spacingAndGlyphs">3,800.0</text>
<text x="1154.3" y="360.9" font-size="15.2" fill="#131722" stroke="#131722" stroke-width="0.3" font-weight="normal" text-anchor="start" textLength="50.3" lengthAdjust="spacingAndGlyphs">3,600.0</text>
<text x="1154.3" y="398.5" font-size="15.2" fill="#131722" stroke="#131722" stroke-width="0.3" font-weight="normal" text-anchor="start" textLength="50.3" lengthAdjust="spacingAndGlyphs">3,400.0</text>
<text x="1154.3" y="436.1" font-size="15.2" fill="#131722" stroke="#131722" stroke-width="0.3" font-weight="normal" text-anchor="start" textLength="50.3" lengthAdjust="spacingAndGlyphs">3,200.0</text>
<text x="1154.3" y="473.7" font-size="15.2" fill="#131722" stroke="#131722" stroke-width="0.3" font-weight="normal" text-anchor="start" textLength="50.3" lengthAdjust="spacingAndGlyphs">3,000.0</text>
<text x="1154.3" y="511.3" font-size="15.2" fill="#131722" stroke="#131722" stroke-width="0.3" font-weight="normal" text-anchor="start" textLength="50.3" lengthAdjust="spacingAndGlyphs">2,800.0</text>
<text x="1154.3" y="548.8" font-size="15.2" fill="#131722" stroke="#131722" stroke-width="0.3" font-weight="normal" text-anchor="start" textLength="50.3" lengthAdjust="spacingAndGlyphs">2,600.0</text>
<text x="1154.3" y="586.4" font-size="15.2" fill="#131722" stroke="#131722" stroke-width="0.3" font-weight="normal" text-anchor="start" textLength="50.3" lengthAdjust="spacingAndGlyphs">2,400.0</text>
<text x="1154.3" y="624.0" font-size="15.2" fill="#131722" stroke="#131722" stroke-width="0.3" font-weight="normal" text-anchor="start" textLength="50.3" lengthAdjust="spacingAndGlyphs">2,200.0</text>
<text x="1154.3" y="661.6" font-size="15.2" fill="#131722" stroke="#131722" stroke-width="0.3" font-weight="normal" text-anchor="start" textLength="50.3" lengthAdjust="spacingAndGlyphs">2,000.0</text>
<text x="1154.3" y="699.9" font-size="15.2" fill="#131722" stroke="#131722" stroke-width="0.3" font-weight="normal" text-anchor="start" textLength="50.3" lengthAdjust="spacingAndGlyphs">1,800.0</text>
<path d="M1143.8,181.2 H1217 Q1219.2,181.2 1219.2,183.4 V217.5 Q1219.2,219.7 1217,219.7 H1143.8 Z" fill="#f23645"/>
<text x="1154.3" y="196.2" font-size="15.2" fill="#fff" stroke="#fff" stroke-width="0.3" font-weight="normal" text-anchor="start" textLength="51" lengthAdjust="spacingAndGlyphs">4,483.0</text>
<text x="1154.3" y="213.6" font-size="15.2" fill="#fff" stroke="#fff" stroke-width="0.3" font-weight="normal" text-anchor="start" fill-opacity="0.85" textLength="57.7" lengthAdjust="spacingAndGlyphs">07:00:37</text>
<rect x="1079" y="181.2" width="63.8" height="20.7" rx="2" fill="#f23645"/>
<text x="1085.6" y="196.4" font-size="14.8" fill="#fff" stroke="#fff" stroke-width="0.3" font-weight="normal" text-anchor="start" textLength="52" lengthAdjust="spacingAndGlyphs">ETHUSD</text>
<path d="M1143.8,220.1 H1209.8 Q1211.8,220.1 1211.8,222.1 V237.8 Q1211.8,239.8 1209.8,239.8 H1143.8 Z" fill="#008000"/>
<text x="1154.3" y="234.5" font-size="15.2" fill="#fff" stroke="#fff" stroke-width="0.3" font-weight="normal" text-anchor="start" textLength="51" lengthAdjust="spacingAndGlyphs">4,441.3</text>
<path d="M1143.8,241.1 H1209.8 Q1211.8,241.1 1211.8,243.1 V259.9 Q1211.8,261.9 1209.8,261.9 H1143.8 Z" fill="#5b9cf6"/>
<text x="1154.3" y="256.1" font-size="15.2" fill="#000" stroke="#000" stroke-width="0.3" font-weight="normal" text-anchor="start" textLength="51" lengthAdjust="spacingAndGlyphs">4,322.9</text>
<path d="M1143.8,308.8 H1209.8 Q1211.8,308.8 1211.8,310.8 V327.9 Q1211.8,329.9 1209.8,329.9 H1143.8 Z" fill="#ff9800"/>
<text x="1154.3" y="324.0" font-size="15.2" fill="#000" stroke="#000" stroke-width="0.3" font-weight="normal" text-anchor="start" textLength="51" lengthAdjust="spacingAndGlyphs">3,800.6</text>
<path d="M1143.8,396.1 H1209.8 Q1211.8,396.1 1211.8,398.1 V414.8 Q1211.8,416.8 1209.8,416.8 H1143.8 Z" fill="#000"/>
<text x="1154.3" y="411.1" font-size="15.2" fill="#fff" stroke="#fff" stroke-width="0.3" font-weight="normal" text-anchor="start" textLength="51" lengthAdjust="spacingAndGlyphs">3,339.7</text>
<path d="M1143.8,665 H1207.3 Q1209.3,665 1209.3,667 V683.9 Q1209.3,685.9 1207.3,685.9 H1143.8 Z" fill="#ef5350"/>
<text x="1156" y="680.1" font-size="15.2" fill="#fff" stroke="#fff" stroke-width="0.3" font-weight="normal" text-anchor="start" textLength="47.5" lengthAdjust="spacingAndGlyphs">10.05&#8201;K</text>
<path d="M1143.8,714.2 H1196.1 Q1198.1,714.2 1198.1,716.2 V732.9 Q1198.1,734.9 1196.1,734.9 H1143.8 Z" fill="#ffeb3b"/>
<text x="1155.5" y="729.1" font-size="15.2" fill="#000" stroke="#000" stroke-width="0.3" font-weight="normal" text-anchor="start" textLength="36.7" lengthAdjust="spacingAndGlyphs">54.87</text>
<path d="M1143.8,735.2 H1196.1 Q1198.1,735.2 1198.1,737.2 V754 Q1198.1,756 1196.1,756 H1143.8 Z" fill="#7e57c2"/>
<text x="1155.5" y="750.2" font-size="15.2" fill="#fff" stroke="#fff" stroke-width="0.3" font-weight="normal" text-anchor="start" textLength="36.7" lengthAdjust="spacingAndGlyphs">52.21</text>
<text x="83.2" y="790.7" font-size="14.2" fill="#131722" stroke="#131722" stroke-width="0.3" font-weight="bold" text-anchor="middle" >Jun</text>
<text x="320.6" y="790.7" font-size="14.2" fill="#131722" stroke="#131722" stroke-width="0.3" font-weight="bold" text-anchor="middle" >Jul</text>
<text x="566.4" y="790.7" font-size="14.2" fill="#131722" stroke="#131722" stroke-width="0.3" font-weight="bold" text-anchor="middle" >Aug</text>
<text x="811.4" y="790.7" font-size="14.2" fill="#131722" stroke="#131722" stroke-width="0.3" font-weight="bold" text-anchor="middle" >Sep</text>
<text x="1048.6" y="790.7" font-size="14.2" fill="#131722" stroke="#131722" stroke-width="0.3" font-weight="bold" text-anchor="middle" >Oct</text>
<text x="12.7" y="24.9" font-size="15.5" fill="#000" stroke="#000" stroke-width="0.3" font-weight="normal" text-anchor="start" textLength="110.7" lengthAdjust="spacingAndGlyphs">arman_shirinyan</text>
<text x="128.0" y="24.9" font-size="15.5" fill="#000" stroke="#000" stroke-width="0.3" font-weight="normal" text-anchor="start" textLength="51.9" lengthAdjust="spacingAndGlyphs">created</text>
<text x="184.1" y="24.9" font-size="15.5" fill="#000" stroke="#000" stroke-width="0.3" font-weight="normal" text-anchor="start" textLength="30.0" lengthAdjust="spacingAndGlyphs">with</text>
<text x="218.1" y="24.9" font-size="15.5" fill="#000" stroke="#000" stroke-width="0.3" font-weight="normal" text-anchor="start" textLength="117.0" lengthAdjust="spacingAndGlyphs">TradingView.com,</text>
<text x="341.2" y="24.9" font-size="15.5" fill="#000" stroke="#000" stroke-width="0.3" font-weight="normal" text-anchor="start" textLength="24.9" lengthAdjust="spacingAndGlyphs">Sep</text>
<text x="370.9" y="24.9" font-size="15.5" fill="#000" stroke="#000" stroke-width="0.3" font-weight="normal" text-anchor="start" textLength="17.9" lengthAdjust="spacingAndGlyphs">19,</text>
<text x="395.9" y="24.9" font-size="15.5" fill="#000" stroke="#000" stroke-width="0.3" font-weight="normal" text-anchor="start" textLength="31.4" lengthAdjust="spacingAndGlyphs">2025</text>
<text x="433.3" y="24.9" font-size="15.5" fill="#000" stroke="#000" stroke-width="0.3" font-weight="normal" text-anchor="start" textLength="34.9" lengthAdjust="spacingAndGlyphs">16:59</text>
<text x="473.3" y="24.9" font-size="15.5" fill="#000" stroke="#000" stroke-width="0.3" font-weight="normal" text-anchor="start" textLength="27.2" lengthAdjust="spacingAndGlyphs">UTC</text>
<text x="22.8" y="58.7" font-size="15.2" fill="#131722" stroke="#131722" stroke-width="0.3" font-weight="normal" text-anchor="start" textLength="65.3" lengthAdjust="spacingAndGlyphs">Ethereum</text>
<text x="104.6" y="58.7" font-size="15.2" fill="#131722" stroke="#131722" stroke-width="0.3" font-weight="normal" text-anchor="start" textLength="28.4" lengthAdjust="spacingAndGlyphs">U.S.</text>
<text x="136.9" y="58.7" font-size="15.2" fill="#131722" stroke="#131722" stroke-width="0.3" font-weight="normal" text-anchor="start" textLength="39.2" lengthAdjust="spacingAndGlyphs">Dollar</text>
<text x="191.3" y="58.7" font-size="15.2" fill="#131722" stroke="#131722" stroke-width="0.3" font-weight="normal" text-anchor="start" textLength="17.3" lengthAdjust="spacingAndGlyphs">1D</text>
<text x="223.1" y="58.7" font-size="15.2" fill="#131722" stroke="#131722" stroke-width="0.3" font-weight="normal" text-anchor="start" textLength="59.5" lengthAdjust="spacingAndGlyphs">Bitstamp</text>
<text x="93.7" y="58.7" font-size="15.2" fill="#131722" stroke="#131722" stroke-width="0.3" font-weight="normal" text-anchor="start" >/</text>
<text x="181.9" y="58.7" font-size="15.2" fill="#131722" stroke="#131722" stroke-width="0.3" font-weight="normal" text-anchor="start" >·</text>
<text x="213.4" y="58.7" font-size="15.2" fill="#131722" stroke="#131722" stroke-width="0.3" font-weight="normal" text-anchor="start" >·</text>
<text x="291.6" y="58.7" font-size="15.2" fill="#131722" stroke="#131722" stroke-width="0.3" font-weight="normal" text-anchor="start" textLength="10.6" lengthAdjust="spacingAndGlyphs">O</text>
<text x="302.3" y="58.7" font-size="15.2" fill="#f23645" stroke="#f23645" stroke-width="0.3" font-weight="normal" text-anchor="start" textLength="50.1" lengthAdjust="spacingAndGlyphs">4,589.6</text>
<text x="360.9" y="58.7" font-size="15.2" fill="#131722" stroke="#131722" stroke-width="0.3" font-weight="normal" text-anchor="start" textLength="10.2" lengthAdjust="spacingAndGlyphs">H</text>
<text x="371.0" y="58.7" font-size="15.2" fill="#f23645" stroke="#f23645" stroke-width="0.3" font-weight="normal" text-anchor="start" textLength="50.1" lengthAdjust="spacingAndGlyphs">4,621.7</text>
<text x="430.4" y="58.7" font-size="15.2" fill="#131722" stroke="#131722" stroke-width="0.3" font-weight="normal" text-anchor="start" textLength="8.1" lengthAdjust="spacingAndGlyphs">L</text>
<text x="438.0" y="58.7" font-size="15.2" fill="#f23645" stroke="#f23645" stroke-width="0.3" font-weight="normal" text-anchor="start" textLength="50.1" lengthAdjust="spacingAndGlyphs">4,447.1</text>
<text x="497.0" y="58.7" font-size="15.2" fill="#131722" stroke="#131722" stroke-width="0.3" font-weight="normal" text-anchor="start" textLength="9.2" lengthAdjust="spacingAndGlyphs">C</text>
<text x="505.8" y="58.7" font-size="15.2" fill="#f23645" stroke="#f23645" stroke-width="0.3" font-weight="normal" text-anchor="start" textLength="50.1" lengthAdjust="spacingAndGlyphs">4,483.0</text>
<text x="565.6" y="58.7" font-size="15.2" fill="#f23645" stroke="#f23645" stroke-width="0.3" font-weight="normal" text-anchor="start" id="lg9" textLength="106.8" lengthAdjust="spacingAndGlyphs">−106.6 (−2.32%)</text>
<g transform="translate(15.5,826.3) scale(1.035,1.022)" fill="#131313"><path d="M14 22H7V11H0V4h14v18z"/><circle cx="20" cy="8" r="4"/><path d="M28 22h-8l7.5-18h8L28 22z"/></g>
<text x="61.5" y="848.8" font-size="26.6" fill="#131313" stroke="#131313" stroke-width="0" font-weight="bold" text-anchor="start" id="tv" letter-spacing="-0.47">TradingView</text>
</svg>
</body></html>
